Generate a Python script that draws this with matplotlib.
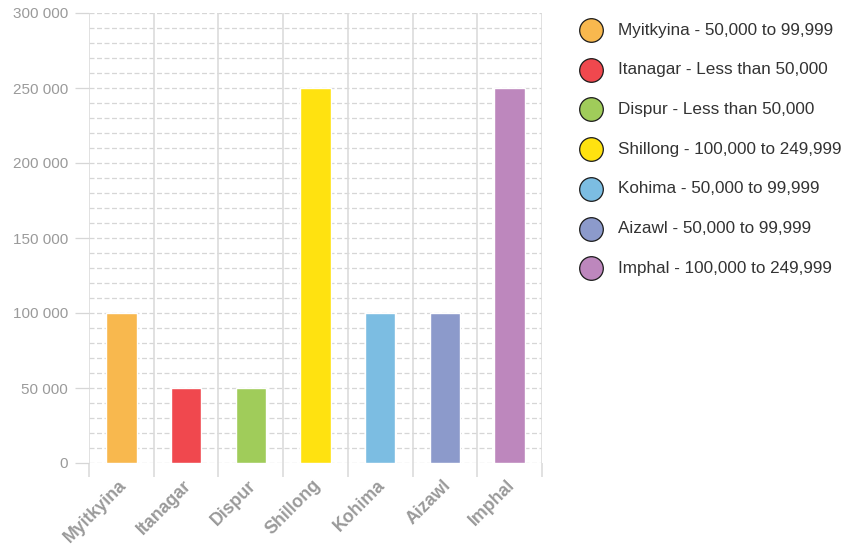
import matplotlib
matplotlib.use("Agg")
import matplotlib.pyplot as plt
from matplotlib.lines import Line2D
import matplotlib.transforms as mtransforms
import numpy as np

cities = ["Myitkyina", "Itanagar", "Dispur", "Shillong", "Kohima", "Aizawl", "Imphal"]
values = [99999, 49999, 49999, 249999, 99999, 99999, 249999]
ranges = ["50,000 to 99,999", "Less than 50,000", "Less than 50,000",
          "100,000 to 249,999", "50,000 to 99,999", "50,000 to 99,999",
          "100,000 to 249,999"]
colors = ["#f8b84e", "#f0484e", "#a0cc5a", "#ffe210", "#7cbde2", "#8c9acb", "#bd87bd"]
yticks = [0, 50000, 100000, 150000, 200000, 250000, 300000]
ytick_labels = ["0", "50 000", "100 000", "150 000", "200 000", "250 000", "300 000"]

plt.rcParams['font.family'] = ['Liberation Sans', 'DejaVu Sans']

W, H = 859, 546
fig = plt.figure(figsize=(W / 100, H / 100), dpi=100)
ax = fig.add_axes([89 / W, 1 - 463 / H, (542 - 89) / W, (463 - 13) / H])

x = np.arange(len(cities))
ax.bar(x, values, width=0.47, color=colors, edgecolor="white", linewidth=1, zorder=3)

ax.set_xlim(-0.5, len(cities) - 0.5)
ax.set_ylim(0, 300000)

# minor dashed horizontal grid
for v in np.arange(0, 300001, 10000):
    ax.axhline(v, color="#d6d6d6", linestyle=(0, (4, 2)), linewidth=0.9, zorder=1)
# vertical solid grid at category boundaries
for b in np.arange(-0.5, len(cities), 1.0):
    ax.axvline(b, color="#dcdcdc", linewidth=1.2, zorder=1)

for s in ax.spines.values():
    s.set_visible(False)

ax.set_yticks(yticks)
ax.set_yticklabels(ytick_labels)
ax.tick_params(axis="y", length=10, width=0.9, color="#d6d6d6", pad=5,
               labelsize=11, labelcolor="#9a9a9a")

ax.set_xticks(np.arange(-0.5, len(cities), 1.0), minor=False)
ax.set_xticklabels([])
ax.tick_params(axis="x", which="major", length=10, width=1.2, color="#dcdcdc")
ax.set_xticks(x, minor=True)
ax.set_xticklabels(cities, minor=True, rotation=45, ha="right", va="top",
                   rotation_mode="anchor", fontweight="bold", fontsize=12.8,
                   color="#9a9a9a")
ax.tick_params(axis="x", which="minor", length=0, pad=10)
offset = mtransforms.ScaledTranslation(-3 / 100, 0, fig.dpi_scale_trans)
for lbl in ax.get_xticklabels(minor=True):
    lbl.set_transform(lbl.get_transform() + offset)

# legend, drawn manually
y0 = 30
dy = 39.7
for i, (c, r, col) in enumerate(zip(cities, ranges, colors)):
    yy = 1 - (y0 + i * dy) / H
    fig.add_artist(Line2D([591 / W], [yy], marker="o", markersize=17,
                          markerfacecolor=col, markeredgecolor="#1a1a1a",
                          markeredgewidth=0.9, linestyle="none",
                          transform=fig.transFigure))
    fig.text(618 / W, yy, f"{c} - {r}", fontsize=12.3, color="#333333",
             va="center", ha="left")

fig.savefig("out.png", dpi=100)
